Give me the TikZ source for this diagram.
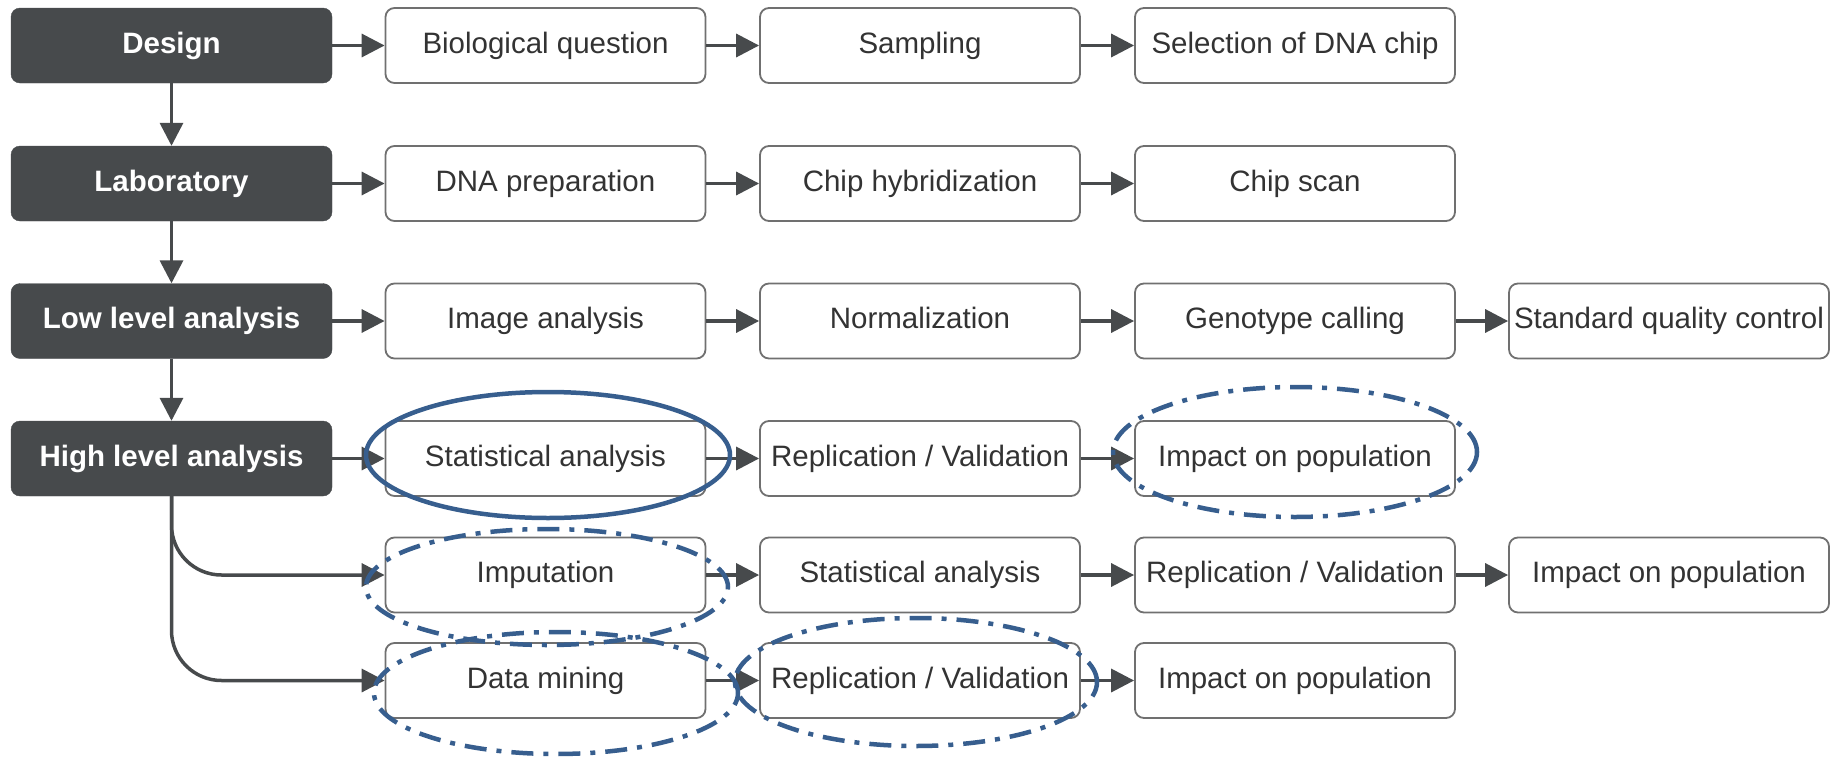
\documentclass[tikz,border=0pt]{standalone}
\usepackage{fontspec}
\setmainfont{Liberation Sans}
\usepackage{xcolor}
\usepackage{tikz}
\usetikzlibrary{arrows.meta}

\definecolor{phasegray}{HTML}{474A4C}
\definecolor{boxline}{HTML}{707070}
\definecolor{markblue}{HTML}{375E8E}

\begin{document}
\begin{tikzpicture}[
  x=1pt, y=-1pt,
  font=\fontsize{29.5}{34}\selectfont,
  phase/.style={fill=phasegray, draw=phasegray, rounded corners=9pt,
    text=white, font=\fontsize{29.5}{34}\selectfont\bfseries,
    minimum width=321pt, minimum height=75pt, inner sep=0pt,
    text height=21pt, text depth=6pt},
  task/.style={draw=boxline, fill=white, rounded corners=9pt,
    line width=1.8pt, text=black!80, minimum width=320pt,
    minimum height=75pt, inner sep=0pt, text height=21pt, text depth=6pt},
  flow/.style={-{Triangle[length=23pt,width=23pt]}, line width=3.5pt,
    draw=phasegray},
  ring/.style={draw=markblue, line width=4.5pt},
  dashring/.style={ring, dash pattern=on 22pt off 10pt on 5pt off 10pt}
]
\useasboundingbox (0,0) rectangle (1842,763);

\node[phase] (design) at (171.5,45.5) {Design};
\node[phase] (lab) at (171.5,183.5) {Laboratory};
\node[phase] (lowlvl) at (171.5,321) {Low level analysis};
\node[phase] (highlvl) at (171.5,458.5) {High level analysis};
\draw[flow] (design.south) -- (lab.north);
\draw[flow] (lab.south) -- (lowlvl.north);
\draw[flow] (lowlvl.south) -- (highlvl.north);

\node[task] (question) at (545.5,45.5) {Biological question};
\node[task] (sampling) at (920,45.5) {Sampling};
\node[task] (chip) at (1295,45.5) {Selection of DNA chip};
\draw[flow] (design.east) -- (question.west);
\draw[flow] (question.east) -- (sampling.west);
\draw[flow] (sampling.east) -- (chip.west);

\node[task] (prep) at (545.5,183.5) {DNA preparation};
\node[task] (hybrid) at (920,183.5) {Chip hybridization};
\node[task] (scan) at (1295,183.5) {Chip scan};
\draw[flow] (lab.east) -- (prep.west);
\draw[flow] (prep.east) -- (hybrid.west);
\draw[flow] (hybrid.east) -- (scan.west);

\node[task] (image) at (545.5,321) {Image analysis};
\node[task] (norm) at (920,321) {Normalization};
\node[task] (calling) at (1295,321) {Genotype calling};
\node[task] (quality) at (1669,321) {Standard quality control};
\draw[flow] (lowlvl.east) -- (image.west);
\draw[flow] (image.east) -- (norm.west);
\draw[flow] (norm.east) -- (calling.west);
\draw[flow] (calling.east) -- (quality.west);

\node[task] (stat) at (545.5,458.5) {Statistical analysis};
\node[task] (valid) at (920,458.5) {Replication / Validation};
\node[task] (impact) at (1295,458.5) {Impact on population};
\draw[flow] (highlvl.east) -- (stat.west);
\draw[flow] (stat.east) -- (valid.west);
\draw[flow] (valid.east) -- (impact.west);

\node[task] (imput) at (545.5,575) {Imputation};
\node[task] (stattwo) at (920,575) {Statistical analysis};
\node[task] (validtwo) at (1295,575) {Replication / Validation};
\node[task] (impacttwo) at (1669,575) {Impact on population};
\draw[flow, rounded corners=50pt] (highlvl.south) |- (imput.west);
\draw[flow] (imput.east) -- (stattwo.west);
\draw[flow] (stattwo.east) -- (validtwo.west);
\draw[flow] (validtwo.east) -- (impacttwo.west);

\node[task] (mining) at (545.5,680.5) {Data mining};
\node[task] (validthree) at (920,680.5) {Replication / Validation};
\node[task] (impactthree) at (1295,680.5) {Impact on population};
\draw[flow, rounded corners=50pt] (highlvl.south) |- (mining.west);
\draw[flow] (mining.east) -- (validthree.west);
\draw[flow] (validthree.east) -- (impactthree.west);

\draw[ring] ([xshift=2.5pt,yshift=3.5pt]stat.center)
  ellipse [x radius=182pt, y radius=63pt];
\draw[dashring] ([yshift=6.5pt]impact.center)
  ellipse [x radius=182pt, y radius=65pt];
\draw[dashring] ([xshift=1.5pt,yshift=-12pt]imput.center)
  ellipse [x radius=181pt, y radius=58pt];
\draw[dashring] ([xshift=10.5pt,yshift=-12.5pt]mining.center)
  ellipse [x radius=182pt, y radius=61pt];
\draw[dashring] ([xshift=-4pt,yshift=-1.5pt]validthree.center)
  ellipse [x radius=181pt, y radius=64pt];
\end{tikzpicture}
\end{document}
